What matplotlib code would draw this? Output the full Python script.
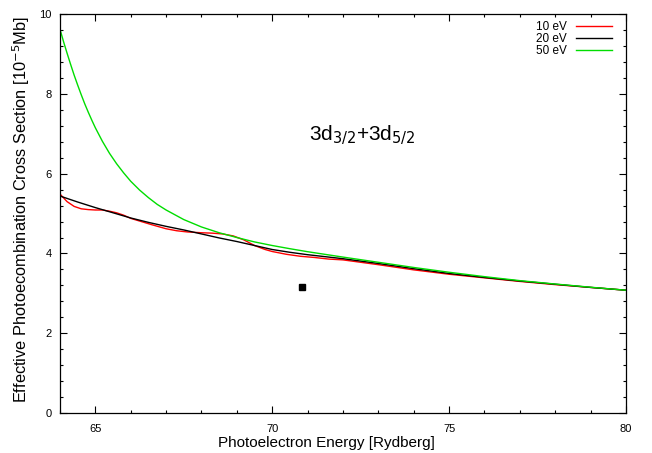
import matplotlib
matplotlib.use("Agg")
import matplotlib.pyplot as plt
from matplotlib.ticker import MultipleLocator

plt.rcParams['font.family'] = ['Liberation Sans', 'DejaVu Sans']

# --- data ---
x_10 = [64.0, 64.2, 64.4, 64.6, 64.8, 65.0, 65.2, 65.4, 65.6, 65.8, 66.0, 66.3, 66.6,
        67.0, 67.3, 67.6, 68.0, 68.3, 68.6, 68.9, 69.2, 69.5, 69.8, 70.0, 70.4, 70.8,
        71.2, 71.6, 72.0, 73.0, 74.0, 75.0, 76.0, 77.0, 78.0, 79.0, 80.0]
y_10 = [5.49, 5.30, 5.18, 5.12, 5.10, 5.09, 5.09, 5.06, 5.02, 4.96, 4.88, 4.80, 4.72,
        4.62, 4.57, 4.54, 4.52, 4.51, 4.49, 4.44, 4.34, 4.20, 4.10, 4.05, 3.98, 3.93,
        3.90, 3.86, 3.84, 3.72, 3.59, 3.48, 3.39, 3.30, 3.22, 3.15, 3.08]

x_20 = [64.0, 64.5, 65.0, 65.5, 66.0, 66.5, 67.0, 67.5, 68.0, 68.5, 69.0, 69.5, 70.0,
        70.5, 71.0, 72.0, 73.0, 74.0, 75.0, 76.0, 77.0, 78.0, 79.0, 80.0]
y_20 = [5.44, 5.29, 5.15, 5.02, 4.89, 4.78, 4.68, 4.59, 4.49, 4.39, 4.30, 4.20, 4.10,
        4.03, 3.97, 3.87, 3.75, 3.62, 3.50, 3.40, 3.31, 3.23, 3.15, 3.08]

x_50 = [64.0, 64.1, 64.2, 64.3, 64.4, 64.5, 64.6, 64.7, 64.8, 64.9, 65.0, 65.2, 65.4,
        65.6, 65.8, 66.0, 66.25, 66.5, 66.75, 67.0, 67.5, 68.0, 68.5, 69.0, 69.5, 70.0,
        70.5, 71.0, 72.0, 73.0, 74.0, 75.0, 76.0, 77.0, 78.0, 79.0, 80.0]
y_50 = [9.62, 9.31, 9.02, 8.74, 8.47, 8.22, 7.98, 7.75, 7.54, 7.34, 7.15, 6.81, 6.51,
        6.25, 6.02, 5.81, 5.59, 5.40, 5.23, 5.09, 4.85, 4.665, 4.52, 4.40, 4.29, 4.20,
        4.12, 4.045, 3.91, 3.78, 3.65, 3.53, 3.42, 3.32, 3.235, 3.155, 3.08]

labels = ["10 eV", "20 eV", "50 eV"]
colors = ["#ff0000", "#000000", "#00dd00"]

point_x = [70.84]
point_y = [3.16]

title_text = r"3d$_{3/2}$+3d$_{5/2}$"

fig = plt.figure(figsize=(6.52, 4.53), dpi=100)
ax = fig.add_axes([0.092, 0.088, 0.868, 0.881])

ax.plot(x_10, y_10, color=colors[0], lw=1.0, label=labels[0])
ax.plot(x_20, y_20, color=colors[1], lw=1.0, label=labels[1])
ax.plot(x_50, y_50, color=colors[2], lw=1.0, label=labels[2])
ax.plot(point_x, point_y, 's', color='black', ms=5)

ax.set_xlim(64, 80)
ax.set_ylim(0, 10)
ax.xaxis.set_major_locator(MultipleLocator(5))
ax.xaxis.set_minor_locator(MultipleLocator(1))
ax.yaxis.set_major_locator(MultipleLocator(2))
ax.yaxis.set_minor_locator(MultipleLocator(0.4))
ax.tick_params(which='both', direction='in', top=True, right=True, labelsize=8,
               width=0.8)
ax.tick_params(which='major', length=5)
ax.tick_params(which='minor', length=2.5)
ax.tick_params(axis='x', pad=8)
ax.tick_params(axis='y', pad=6)
for s in ax.spines.values():
    s.set_linewidth(0.9)

ax.set_xlabel("Photoelectron Energy [Rydberg]", fontsize=11)
ax.xaxis.set_label_coords(0.47, -0.076, transform=ax.transAxes)
ax.xaxis.label.set_va('center')
ax.set_ylabel(r"Effective Photoecombination Cross Section [10$^{-5}$Mb]", fontsize=11.8)
ax.yaxis.set_label_coords(-0.05, 0.51, transform=ax.transAxes)

ax.text(72.53, 6.97, title_text, fontsize=15, ha='center', va='center')

ax.legend(loc='upper right', frameon=False, markerfirst=False, fontsize=8.5,
          handlelength=3.05, handletextpad=0.76, labelspacing=0.0,
          borderaxespad=0, borderpad=0, bbox_to_anchor=(0.975, 0.983))

fig.savefig("out.png", dpi=100)
